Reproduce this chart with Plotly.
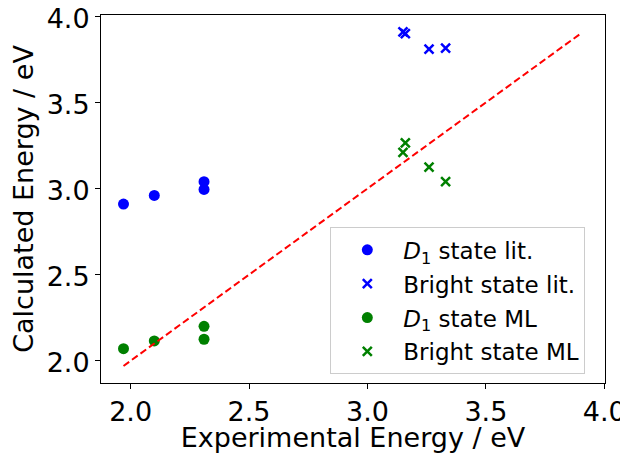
import plotly.graph_objects as go

# Data
d1_lit_x = [1.97, 2.10, 2.31, 2.31]
d1_lit_y = [2.91, 2.96, 3.04, 2.995]
bright_lit_x = [3.15, 3.16, 3.26, 3.33]
bright_lit_y = [3.91, 3.90, 3.81, 3.815]
d1_ml_x = [1.97, 2.10, 2.31, 2.31]
d1_ml_y = [2.07, 2.115, 2.20, 2.125]
bright_ml_x = [3.16, 3.15, 3.26, 3.33]
bright_ml_y = [3.265, 3.21, 3.125, 3.04]
diag = [1.97, 3.9]
tick_vals = [2.0, 2.5, 3.0, 3.5, 4.0]
tick_text = ["2.0", "2.5", "3.0", "3.5", "4.0"]

FONT = "DejaVu Sans"
BLUE = "#0000ff"
GREEN = "#008000"

fig = go.Figure()
fig.add_trace(go.Scatter(x=d1_lit_x, y=d1_lit_y, mode="markers",
                         name="<i>D</i><sub>1</sub> state lit.", legendgroup="a",
                         marker=dict(symbol="circle", size=11, color=BLUE)))
fig.add_trace(go.Scatter(x=bright_lit_x, y=bright_lit_y, mode="markers",
                         name="Bright state lit.", legendgroup="b",
                         marker=dict(symbol="x-thin", size=9, color=BLUE,
                                     line=dict(color=BLUE, width=2.5))))
fig.add_trace(go.Scatter(x=d1_ml_x, y=d1_ml_y, mode="markers",
                         name="<i>D</i><sub>1</sub> state ML", legendgroup="c",
                         marker=dict(symbol="circle", size=11, color=GREEN)))
fig.add_trace(go.Scatter(x=bright_ml_x, y=bright_ml_y, mode="markers",
                         name="Bright state ML", legendgroup="d",
                         marker=dict(symbol="x-thin", size=9, color=GREEN,
                                     line=dict(color=GREEN, width=2.5))))
fig.add_trace(go.Scatter(x=diag, y=diag, mode="lines", showlegend=False,
                         line=dict(color="red", width=2, dash="7px,3.5px")))

axis_common = dict(
    showgrid=False, zeroline=False, showline=True, linecolor="black",
    linewidth=1, mirror=True, ticks="outside", ticklen=5, tickwidth=1,
    tickcolor="black", tickvals=tick_vals, ticktext=tick_text,
    tickfont=dict(family=FONT, size=27, color="black"), automargin=False,
    ticklabeloverflow="allow",
)

# the page body adds an 8px offset, so the figure is 8px smaller
fig.update_layout(
    width=620, height=445,
    margin=dict(l=93, r=23, t=7, b=70, autoexpand=False),
    paper_bgcolor="white", plot_bgcolor="white",
    font=dict(family=FONT, color="black"),
    xaxis=dict(range=[1.875, 4.003],
               title=dict(text="Experimental Energy / eV",
                          font=dict(family=FONT, size=27, color="black")),
               **axis_common),
    yaxis=dict(range=[1.871, 4.008], ticklabelshift=2,
               title=dict(text="Calculated Energy / eV",
                          font=dict(family=FONT, size=27, color="black")),
               **axis_common),
    legend=dict(x=0.455, y=0.423, xanchor="left", yanchor="top",
                bgcolor="rgba(255,255,255,0.8)", bordercolor="#cccccc",
                borderwidth=1, font=dict(family=FONT, size=23, color="black"),
                itemwidth=62, tracegroupgap=1, traceorder="grouped"),
)

fig.write_html("out.html")
